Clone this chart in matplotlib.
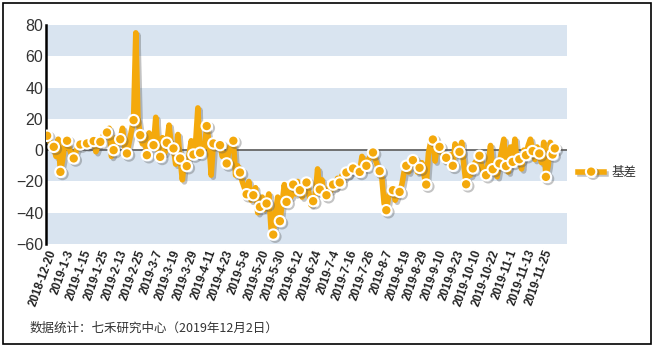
import matplotlib.pyplot as plt
import matplotlib.patheffects as pe
from matplotlib.patches import Rectangle

plt.rcParams['font.family'] = ['Liberation Sans', 'Noto Sans CJK SC', 'DejaVu Sans']

# daily basis values, one per trading day, 2018-12-20 .. 2019-12-2
basis = [
    9.2, 6, 3,  2.1, -4, 7,  -13.9, -6, 5,  6.0, 1, -3,
    -5.3, -1, 3,  3.6, 5, 4,  4.3, 3, 5,  5.8, -1, 3,
    5.3, 8, 12,  11.3, 14, -4,  0, 8, 4,  7.0, 14, 2,
    -2.1, 5, 12,  19.2, 75, 20,  9.6, 4, 8,  -3.2, 11, 2,
    3.2, 21, 0,  -4.3, 8, -2,  4.7, 16, 3,  1.1, -9, 10,
    -5.3, -19, -6,  -10.2, -3, 6,  -2.8, 5, 27,  -1.7, 4, 2,
    15.4, 5, -16,  4.3, 3, 4,  3.2, -4, -2,  -8.5, 0, 5,
    6.0, -16, -10,  -14.3, -20, -24,  -28.2, -20, -32,  -28.8, -24, -40,
    -36.3, -30, -38,  -34.1, -28, -50,  -54.0, -40, -30,  -45.4, -34, -22,
    -33.1, -26, -30,  -22.0, -28, -20,  -25.6, -30, -22,  -20.7, -27, -35,
    -32.6, -28, -12,  -25.2, -19, -30,  -28.8, -24, -26,  -22.0, -24, -18,
    -20.7, -16, -18,  -14.3, -16, -12,  -11.7, -10, -15,  -13.9, -4, -8,
    -10.0, -6, -3,  -1.5, -6, -10,  -13.4, -18, -34,  -38.4, -30, -24,
    -25.6, -32, -28,  -26.7, -22, -14,  -10.0, -14, -8,  -6.4, -9, -14,
    -11.3, -8, -16,  -22.0, -2, 5,  6.8, -7, 4,  2.1, -1, -6,
    -4.9, -8, -3,  -10.0, 4, 0,  -1.1, 5, -10,  -21.8, -14, -16,
    -11.7, -8, -6,  -3.6, -10, -16,  -16, -8, 3,  -12.2, -8, -17,
    -8.5, 0, 7,  -10.2, -14, 2,  -7.5, 7, -8,  -5.8, -12, 0,
    -3.2, 3, 7,  -0.6, -6, 2,  -2.1, -8, 5,  -17.1, -10, 5,
    -2.8, 1.1,
]

tick_labels = ['2018-12-20', '2019-1-3', '2019-1-15', '2019-1-25', '2019-2-13',
               '2019-2-25', '2019-3-7', '2019-3-19', '2019-3-29', '2019-4-11',
               '2019-4-23', '2019-5-8', '2019-5-20', '2019-5-30', '2019-6-12',
               '2019-6-24', '2019-7-4', '2019-7-16', '2019-7-26', '2019-8-7',
               '2019-8-19', '2019-8-29', '2019-9-10', '2019-9-23', '2019-10-10',
               '2019-10-22', '2019-11-1', '2019-11-13', '2019-11-25']

color = '#F4A90C'
band = '#D9E4F0'

fig = plt.figure(figsize=(6.56, 3.48), dpi=100)
ax = fig.add_axes([46 / 656, 1 - 244 / 348, 521 / 656, 219 / 348])

x = list(range(len(basis)))
ax.set_xlim(-0.5, 234.5)
ax.set_ylim(-60, 80)

for lo in (60, 20, -20, -60):
    ax.axhspan(lo, lo + 20, color=band, lw=0, zorder=0)
ax.axhline(0, color='#666666', lw=1.3, zorder=1)

marks = list(range(0, len(basis) - 1, 3)) + [len(basis) - 1]
ax.plot(x, basis, color=color, lw=4.0, marker='o', markevery=marks,
        markersize=7.5, markerfacecolor=color, markeredgecolor='white',
        markeredgewidth=1.5, solid_joinstyle='round', label='基差', zorder=3,
        path_effects=[pe.SimpleLineShadow(offset=(1.5, -1.5), shadow_color='#555555', alpha=0.35),
                      pe.Normal()])

ax.set_yticks(range(-60, 81, 20))
ax.tick_params(axis='y', length=0, pad=2, labelsize=11.5, labelcolor='#333333')
ax.set_xticks(range(0, len(tick_labels) * 8, 8))
ax.set_xticklabels(tick_labels, rotation=70, ha='right', rotation_mode='anchor',
                   fontsize=8.3, fontweight='bold', color='#222222')
ax.tick_params(axis='x', length=0, pad=3)

for s in ('top', 'right', 'bottom'):
    ax.spines[s].set_visible(False)
ax.spines['left'].set_linewidth(1.8)
ax.spines['left'].set_color('black')

leg = fig.legend(loc='center left', bbox_to_anchor=(578 / 656, 1 - 173 / 348),
                 frameon=False, fontsize=9, handlelength=2.1, handletextpad=0.6,
                 borderpad=0, borderaxespad=0)
for t in leg.get_texts():
    t.set_color('#333333')

fig.text(30 / 656, 1 - 328 / 348, '数据统计：七禾研究中心（2019年12月2日）',
         fontsize=9, color='#333333', va='center', family=['Noto Sans CJK SC', 'DejaVu Sans'])

fig.patches.append(Rectangle((3 / 656, 4 / 348), 648 / 656, 341 / 348, transform=fig.transFigure,
                             fill=False, edgecolor='black', lw=1.2))

fig.savefig('out.png', dpi=100)
